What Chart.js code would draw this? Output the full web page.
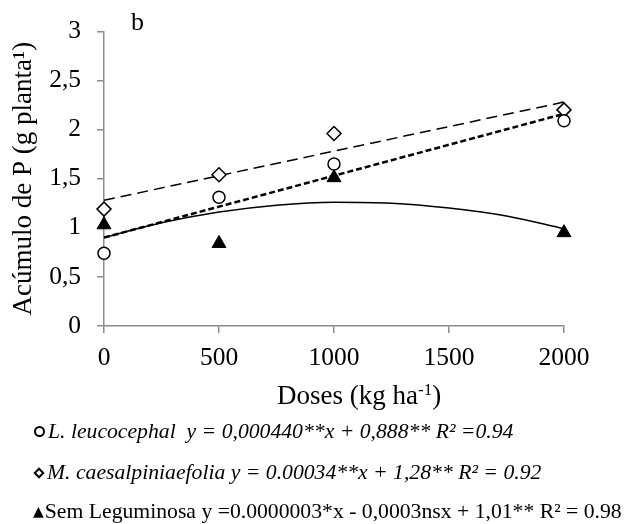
<!DOCTYPE html>
<html lang="pt">
  <head>
    <meta charset="UTF-8" />
    <title>Acúmulo de P</title>
    <style>
      body {
        margin: 0;
        background: #fff;
        font-family: "Liberation Serif", serif;
      }
      #wrap {
        position: relative;
        width: 628px;
        height: 524px;
      }
      canvas {
        position: absolute;
        left: 0;
        top: 0;
      }
      .tag {
        position: absolute;
        left: 131px;
        top: 9px;
        font-size: 26px;
        line-height: 26px;
      }
      .xtitle {
        position: absolute;
        left: 277px;
        top: 376px;
        font-size: 27px;
        line-height: 27px;
        white-space: nowrap;
      }
      .eq {
        position: absolute;
        left: 33px;
        font-size: 21.7px;
        white-space: nowrap;
        line-height: 22px;
      }
      .eq .sym {
        font-family: "DejaVu Sans", sans-serif;
        font-size: 14px;
        font-style: normal;
        vertical-align: 2px;
        margin-right: 1px;
      }
      .eq .ring {
        display: inline-block;
        box-sizing: border-box;
        width: 11px;
        height: 11px;
        border: 2px solid #000;
        border-radius: 50%;
        margin: 0 3px 0 1px;
        vertical-align: 1px;
      }
      .eq .dia {
        display: inline-block;
        box-sizing: border-box;
        width: 8px;
        height: 8px;
        border: 2px solid #000;
        transform: rotate(45deg);
        margin: 0 4px 0 2px;
        vertical-align: 2px;
      }
    </style>
    <script src="https://cdn.jsdelivr.net/npm/chart.js"></script>
  </head>
  <body>
    <div id="wrap">
      <canvas id="chart" width="628" height="524"></canvas>
      <div class="tag">b</div>
      <div class="xtitle">Doses (kg ha<sup style="font-size: 17px; vertical-align: 9px">-1</sup>)</div>
      <div class="eq" style="top: 420px">
        <span class="ring"></span><i>L. leucocephal&nbsp; y = 0,000440**x + 0,888** R² =0.94</i>
      </div>
      <div class="eq" style="top: 461px">
        <span class="dia"></span><i>M. caesalpiniaefolia y = 0.00034**x + 1,28** R² = 0.92</i>
      </div>
      <div class="eq" style="top: 500px">
        <span class="sym">▲</span>Sem Leguminosa y =0.0000003*x - 0,0003nsx + 1,01** R² = 0.98
      </div>
    </div>
    <script>
      // doses (kg/ha) and measured P accumulation
      const doses = [0, 500, 1000, 2000];
      const leucocephala = [0.74, 1.31, 1.65, 2.09];
      const caesalpiniaefolia = [1.19, 1.54, 1.96, 2.2];
      const semLeguminosa = [1.03, 0.84, 1.51, 0.95];

      // fitted trend lines
      const linearX = [0, 2000];
      const leucocephalaFit = [0.9, 2.16];
      const caesalpiniaefoliaFit = [1.28, 2.28];
      const curveX = [0, 250, 500, 750, 1000, 1250, 1500, 1750, 2000];
      const semLeguminosaFit = [0.9, 1.05, 1.16, 1.23, 1.26, 1.25, 1.2, 1.12, 0.99];

      const yTickLabels = ["0", "0,5", "1", "1,5", "2", "2,5", "3"];
      const xTickLabels = ["0", "500", "1000", "1500", "2000"];

      const pts = (xs, ys) => xs.map((x, i) => ({ x: x, y: ys[i] }));
      const axisGrey = "#8c8c8c";
      const serif = "'Liberation Serif', 'Times New Roman', serif";

      new Chart(document.getElementById("chart"), {
        type: "scatter",
        data: {
          datasets: [
            {
              data: pts(doses, leucocephala),
              pointStyle: "circle",
              pointRadius: 6,
              pointBackgroundColor: "#fff",
              pointBorderColor: "#000",
              pointBorderWidth: 1.5,
              clip: false,
            },
            {
              data: pts(doses, caesalpiniaefolia),
              pointStyle: "rectRot",
              pointRadius: 7,
              pointBackgroundColor: "#fff",
              pointBorderColor: "#000",
              pointBorderWidth: 1.5,
              clip: false,
            },
            {
              data: pts(doses, semLeguminosa),
              pointStyle: "triangle",
              pointRadius: 8,
              pointBackgroundColor: "#000",
              pointBorderColor: "#000",
              pointBorderWidth: 1,
              clip: false,
            },
            {
              data: pts(linearX, leucocephalaFit),
              showLine: true,
              pointRadius: 0,
              borderColor: "#000",
              borderWidth: 2.5,
              borderDash: [6, 3],
              clip: false,
            },
            {
              data: pts(linearX, caesalpiniaefoliaFit),
              showLine: true,
              pointRadius: 0,
              borderColor: "#000",
              borderWidth: 1.5,
              borderDash: [11, 6],
              clip: false,
            },
            {
              data: pts(curveX, semLeguminosaFit),
              showLine: true,
              pointRadius: 0,
              borderColor: "#000",
              borderWidth: 1.5,
              cubicInterpolationMode: "monotone",
              clip: false,
            },
          ],
        },
        options: {
          responsive: false,
          animation: false,
          events: [],
          layout: { padding: { top: 29, right: 64, bottom: 128, left: 0 } },
          plugins: {
            legend: { display: false },
            tooltip: { enabled: false },
          },
          scales: {
            x: {
              min: 0,
              max: 2000,
              afterFit: (s) => { s.height = 70; },
              afterBuildTicks: (s) => {
                s.ticks = xTickLabels.map((t) => ({ value: Number(t) }));
              },
              ticks: {
                color: "#000",
                font: { family: serif, size: 25.5 },
                padding: 10,
                maxRotation: 0,
                callback: (v, i) => xTickLabels[i],
              },
              grid: {
                drawOnChartArea: false,
                drawTicks: true,
                tickLength: 7,
                color: axisGrey,
                lineWidth: 1.5,
              },
              border: { color: axisGrey, width: 1.5 },
            },
            y: {
              min: 0,
              max: 3,
              afterFit: (s) => { s.width = 104; },
              afterBuildTicks: (s) => {
                s.ticks = yTickLabels.map((t) => ({ value: Number(t.replace(",", ".")) }));
              },
              ticks: {
                color: "#000",
                font: { family: serif, size: 25.5 },
                padding: 16,
                callback: (v, i) => yTickLabels[i],
              },
              grid: {
                drawOnChartArea: false,
                drawTicks: true,
                tickLength: 7,
                color: axisGrey,
                lineWidth: 1.5,
              },
              border: { color: axisGrey, width: 1.5 },
              title: {
                display: true,
                text: "Acúmulo de P (g planta¹)",
                color: "#000",
                font: { family: serif, size: 27 },
                padding: { top: 8, bottom: 0 },
              },
            },
          },
        },
      });
    </script>
  </body>
</html>
